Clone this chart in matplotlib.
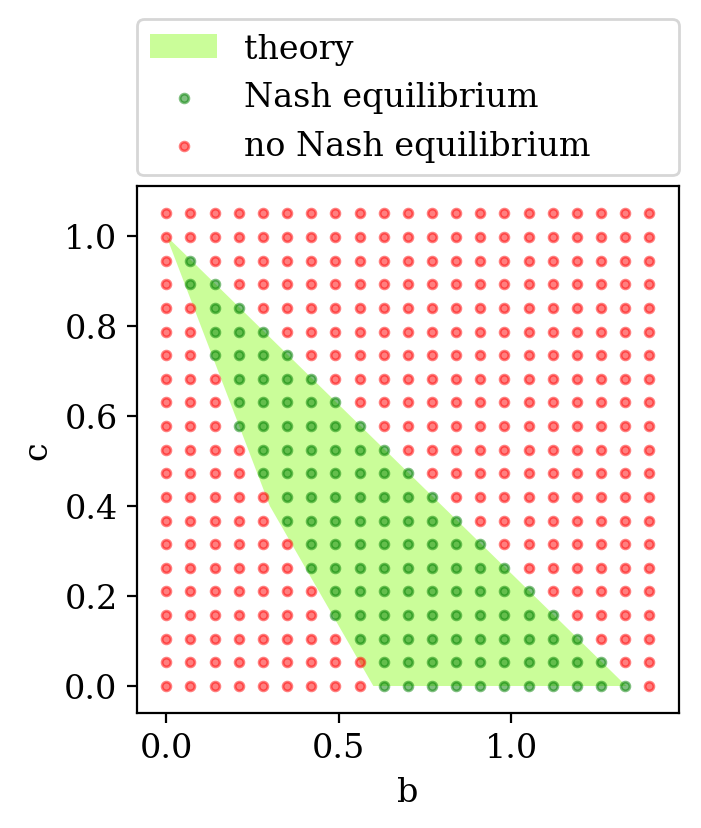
import numpy as np
import matplotlib
matplotlib.use("Agg")
import matplotlib.pyplot as plt

plt.rcParams['font.family'] = 'serif'
plt.rcParams['font.size'] = 12

# grid of parameter values that were tested
b_vals = np.linspace(0, 1.4, 21)
c_vals = np.linspace(0, 1.05, 21)

# per row of c (bottom to top): first and last b index with a Nash equilibrium
nash_lo = [9, 9, 8, 7, 7, 6, 6, 5, 5, 4, 4, 3, 3, 3, 2, 2, 2, 1, 1, None, None]
nash_hi = [19, 18, 17, 16, 15, 14, 13, 12, 11, 10, 9, 8, 7, 6, 5, 4, 3, 2, 1, None, None]

# theoretical region (corners)
theory_b = [0, 0.3, 0.6, 4 / 3]
theory_c = [1, 0.4, 0, 0]

nash_b, nash_c, no_b, no_c = [], [], [], []
for j, c in enumerate(c_vals):
    for i, b in enumerate(b_vals):
        if nash_lo[j] is not None and nash_lo[j] <= i <= nash_hi[j]:
            nash_b.append(b)
            nash_c.append(c)
        else:
            no_b.append(b)
            no_c.append(c)

fig = plt.figure(figsize=(7.01 / 2, 8.29 / 2), dpi=200)
ax = fig.add_axes([137 / 701, 1 - 714 / 829, 542 / 701, 527 / 829])

ax.fill(theory_b, theory_c, color='lawngreen', alpha=0.4, linewidth=0, label='theory')
ax.scatter(nash_b, nash_c, s=10, c='green', alpha=0.5, label='Nash equilibrium')
ax.scatter(no_b, no_c, s=10, c='red', alpha=0.5, label='no Nash equilibrium')

ax.set_xlim(-0.085, 1.486)
ax.set_ylim(-0.06, 1.111)
ax.set_xlabel('b')
ax.set_ylabel('c')
ax.legend(loc='lower left', bbox_to_anchor=(0, 1.02, 1, 0.2), mode='expand',
          borderaxespad=0)

fig.savefig('out.png', dpi=200)
